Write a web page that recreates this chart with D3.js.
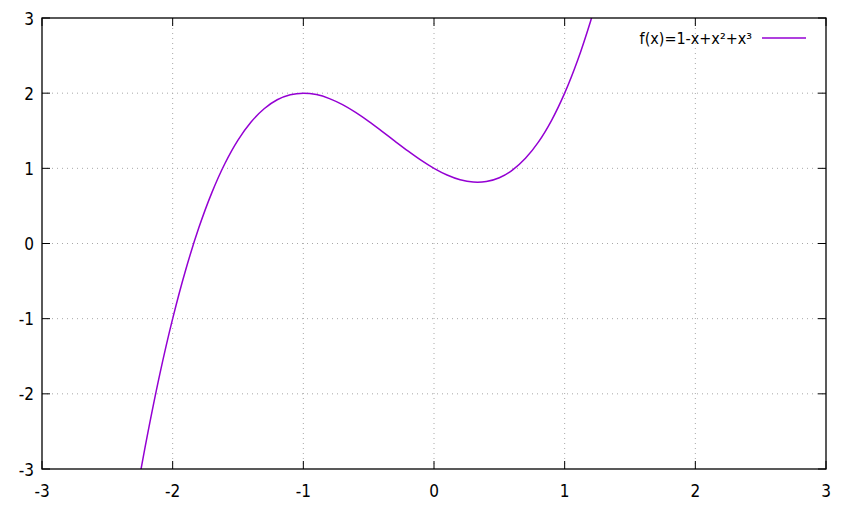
<!DOCTYPE html>
<html><head><meta charset="utf-8">
<script src="https://cdn.jsdelivr.net/npm/d3@7"></script>
<style>body{margin:0;background:#fff}svg{display:block}</style>
</head><body><svg id="c" width="854" height="512"></svg>
<script>
const xTicks = [-3,-2,-1,0,1,2,3];
const yTicks = [-3,-2,-1,0,1,2,3];
const seriesLabel = "f(x)=1-x+x²+x³";
const xs = [-2.3,-2.25,-2.2,-2.1,-2.0,-1.9,-1.8,-1.7,-1.6,-1.5,-1.4,-1.3,-1.2,-1.1,-1.0,-0.9,-0.8,-0.7,-0.6,-0.5,-0.4,-0.3,-0.2,-0.1,0,0.1,0.2,0.3,0.4,0.5,0.6,0.7,0.8,0.9,1.0,1.1,1.2,1.25,1.3];
const ys = [-3.567,-3.078,-2.608,-1.751,-1.0,-0.349,0.208,0.677,1.064,1.375,1.616,1.793,1.912,1.979,2.0,1.981,1.928,1.847,1.744,1.625,1.496,1.363,1.232,1.109,1.0,0.911,0.848,0.817,0.824,0.875,0.976,1.133,1.352,1.639,2.0,2.441,2.968,3.266,3.587];

const FONT = "DejaVu Sans Condensed, DejaVu Sans, sans-serif";
const FS = 17;
const svg = d3.select("#c");
const L=42,R=826,T=18,B=469;
const x = d3.scaleLinear().domain([-3,3]).range([L,R]);
const y = d3.scaleLinear().domain([-3,3]).range([B,T]);

// grid
const g = svg.append("g");
g.selectAll(".gx").data(xTicks.slice(1,-1)).join("line")
 .attr("x1",d=>x(d)).attr("x2",d=>x(d)).attr("y1",T).attr("y2",B)
 .attr("stroke","#a8a8a8").attr("stroke-width",1).attr("stroke-dasharray","1,4");
g.selectAll(".gy").data(yTicks.slice(1,-1)).join("line")
 .attr("y1",d=>y(d)).attr("y2",d=>y(d)).attr("x1",L).attr("x2",R)
 .attr("stroke","#a8a8a8").attr("stroke-width",1).attr("stroke-dasharray","1,4");

// curve
svg.append("clipPath").attr("id","clip").append("rect").attr("x",L).attr("y",T).attr("width",R-L).attr("height",B-T);
const pts = xs.map((v,i)=>[v,ys[i]]);
svg.append("path").datum(pts).attr("clip-path","url(#clip)")
 .attr("d",d3.line().x(d=>x(d[0])).y(d=>y(d[1])).curve(d3.curveCatmullRom))
 .attr("fill","none").attr("stroke","#9400d3").attr("stroke-width",1.5);

// axes (inward ticks, mirrored)
const tk=8;
const ax = svg.append("g").attr("stroke","#000").attr("stroke-width",1);
xTicks.forEach(t=>{
  ax.append("line").attr("x1",x(t)).attr("x2",x(t)).attr("y1",B).attr("y2",B-tk);
  ax.append("line").attr("x1",x(t)).attr("x2",x(t)).attr("y1",T).attr("y2",T+tk);
});
yTicks.forEach(t=>{
  ax.append("line").attr("y1",y(t)).attr("y2",y(t)).attr("x1",L).attr("x2",L+tk);
  ax.append("line").attr("y1",y(t)).attr("y2",y(t)).attr("x1",R).attr("x2",R-tk);
});
svg.append("rect").attr("x",L).attr("y",T).attr("width",R-L).attr("height",B-T)
 .attr("fill","none").attr("stroke","#000").attr("stroke-width",1.3);

svg.selectAll(".xl").data(xTicks).join("text").attr("x",d=>x(d)).attr("y",B+28)
 .attr("font-family",FONT).attr("font-size",FS).attr("fill","#000")
 .attr("text-anchor","middle").text(d=>d);
svg.selectAll(".yl").data(yTicks).join("text").attr("x",L-8).attr("y",d=>y(d)+6.5)
 .attr("font-family",FONT).attr("font-size",FS).attr("fill","#000")
 .attr("text-anchor","end").text(d=>d);

// legend
svg.append("text").attr("x",752).attr("y",44).attr("text-anchor","end")
 .attr("font-family",FONT).attr("font-size",FS-1).attr("fill","#000").text(seriesLabel);
svg.append("line").attr("x1",762).attr("x2",806).attr("y1",38).attr("y2",38)
 .attr("stroke","#9400d3").attr("stroke-width",1.5);
</script></body></html>
